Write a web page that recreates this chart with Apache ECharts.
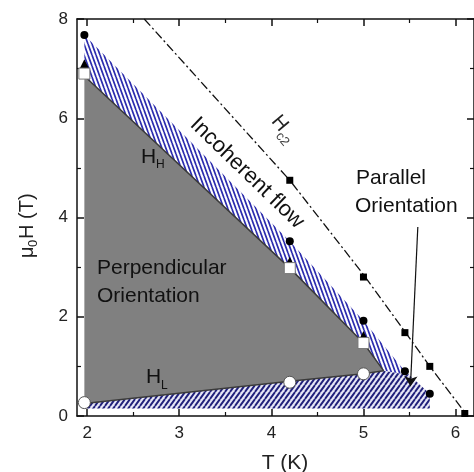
<!DOCTYPE html>
<html><head><meta charset="utf-8">
<script src="https://cdn.jsdelivr.net/npm/echarts@6/dist/echarts.min.js"></script>
<style>html,body{margin:0;padding:0;background:#fff}#c{width:474px;height:472px}</style>
</head><body><div id="c"></div>
<script>
// ---- data (T in K, mu0H in T) ----
const xTickValues = [2, 3, 4, 5, 6];
const xMinorValues = [2.5, 3.5, 4.5, 5.5];
const hc2Squares = [[4.2, 4.75], [5.0, 2.8], [5.45, 1.68], [5.72, 1.0], [6.1, 0.05]];
const hc2Curve = [[2.62, 8.0], [4.2, 4.75], [5.0, 2.85], [5.45, 1.7], [5.72, 1.0], [6.13, 0.0]];
const filledCircles = [[1.97, 7.68], [4.2, 3.52], [5.0, 1.92], [5.45, 0.9], [5.72, 0.45]];
const openSquares = [[1.97, 6.9], [4.2, 2.98], [5.0, 1.47]];
const filledTriangles = [[1.97, 7.1], [4.2, 3.12], [5.0, 1.62]];
const openCircles = [[1.97, 0.27], [4.2, 0.68], [5.0, 0.85]];
const hHLine = [[1.97, 6.85], [4.2, 2.98], [5.0, 1.47], [5.22, 0.91]];
const hLLine = [[1.97, 0.25], [4.2, 0.7], [5.0, 0.85], [5.22, 0.91]];
const perpendicularRegion = [[1.97, 6.85], [4.2, 2.98], [5.0, 1.47], [5.22, 0.91], [5.0, 0.85], [4.2, 0.7], [1.97, 0.25]];
const incoherentUpper = [[1.97, 7.68], [4.2, 3.52], [5.0, 1.92], [5.45, 0.9], [5.5, 0.82], [5.22, 0.91], [5.0, 1.47], [4.2, 2.98], [1.97, 6.85]];
const incoherentLower = [[1.99, 0.25], [4.2, 0.7], [5.0, 0.85], [5.22, 0.91], [5.5, 0.82], [5.72, 0.45], [5.72, 0.15], [1.99, 0.15]];
const arrowParallel = [[5.59, 3.81], [5.51, 0.6]];

// stripe tile: w = horizontal period, h = tile height; lean '/' or '\'
function makePattern(lean, w, h, lw, color, bg) {
  const c = document.createElement('canvas');
  c.width = w; c.height = h;
  const g = c.getContext('2d');
  g.fillStyle = bg; g.fillRect(0, 0, w, h);
  g.strokeStyle = color; g.lineWidth = lw;
  g.beginPath();
  for (let k = -1; k <= 1; k++) {
    if (lean === '/') { g.moveTo(k * w, h); g.lineTo(k * w + w, 0); }
    else { g.moveTo(k * w, 0); g.lineTo(k * w + w, h); }
  }
  g.stroke();
  return { image: c, repeat: 'repeat' };
}
const patUpper = makePattern('\\', 4, 11, 1.7, '#2c2cae', '#ffffff');
const patLower = makePattern('/', 5, 7, 1.9, '#20207a', '#e6e6f6');

function polySeries(points, fill, z) {
  return {
    type: 'custom', coordinateSystem: 'cartesian2d', silent: true, z: z,
    data: [points[0]],
    renderItem: function (params, api) {
      return { type: 'polygon', shape: { points: points.map(p => api.coord(p)) }, style: { fill: fill, stroke: null } };
    }
  };
}

const font = '"Liberation Sans", Arial, sans-serif';
const chart = echarts.init(document.getElementById('c'));
const xCommon = { type: 'value', min: 1.89, max: 6.2, splitLine: { show: false } };
const axLine = { show: true, lineStyle: { color: '#111', width: 1.5 } };
function txt(x, y, text, size, color, align) {
  return { type: 'text', x: x, y: y, z: 100, style: { text: text, font: size + 'px ' + font, fill: color, textAlign: align || 'left', textVerticalAlign: 'middle' } };
}
chart.setOption({
  animation: false,
  backgroundColor: '#fff',
  grid: { left: 77, top: 19, width: 399, height: 397 },
  xAxis: [
    Object.assign({}, xCommon, { position: 'bottom', axisLine: axLine,
      axisTick: { inside: true, length: 7, customValues: xTickValues, lineStyle: { color: '#111', width: 1.5 } },
      axisLabel: { customValues: xTickValues, fontSize: 17, color: '#222', fontFamily: font, margin: 9 } }),
    Object.assign({}, xCommon, { position: 'bottom', axisLine: { show: false },
      axisTick: { inside: true, length: 4, customValues: xMinorValues, lineStyle: { color: '#111', width: 1.2 } },
      axisLabel: { show: false } }),
    Object.assign({}, xCommon, { position: 'top', axisLine: axLine,
      axisTick: { inside: true, length: 7, customValues: xTickValues, lineStyle: { color: '#111', width: 1.5 } },
      axisLabel: { show: false } }),
    Object.assign({}, xCommon, { position: 'top', axisLine: { show: false },
      axisTick: { inside: true, length: 4, customValues: xMinorValues, lineStyle: { color: '#111', width: 1.2 } },
      axisLabel: { show: false } })
  ],
  yAxis: [
    { type: 'value', min: 0, max: 8, interval: 2, position: 'left', splitLine: { show: false }, axisLine: axLine,
      axisTick: { inside: true, length: 7, lineStyle: { color: '#111', width: 1.5 } },
      minorTick: { show: true, splitNumber: 2, length: 4, lineStyle: { color: '#111', width: 1.2 } },
      axisLabel: { fontSize: 17, color: '#222', fontFamily: font, margin: 9 } },
    { type: 'value', min: 0, max: 8, interval: 2, position: 'right', splitLine: { show: false }, axisLine: axLine,
      axisTick: { inside: true, length: 7, lineStyle: { color: '#111', width: 1.5 } },
      minorTick: { show: true, splitNumber: 2, length: 4, lineStyle: { color: '#111', width: 1.2 } },
      axisLabel: { show: false } }
  ],
  series: [
    polySeries(incoherentUpper, patUpper, 1),
    polySeries(incoherentLower, patLower, 1),
    polySeries(perpendicularRegion, '#808080', 2),
    { type: 'line', data: hHLine, symbol: 'none', z: 3, lineStyle: { color: '#3a3a3a', width: 1.5 } },
    { type: 'line', data: hLLine, symbol: 'none', z: 3, lineStyle: { color: '#3a3a3a', width: 1.5 } },
    { type: 'line', data: hc2Curve, symbol: 'none', z: 3, lineStyle: { color: '#111', width: 1.3, type: [9, 3, 2, 3] } },
    { type: 'lines', coordinateSystem: 'cartesian2d', z: 6, symbol: ['none', 'arrow'], symbolSize: 10,
      lineStyle: { color: '#111', width: 1.2, opacity: 1 }, data: [{ coords: arrowParallel }] },
    { type: 'scatter', data: filledTriangles, symbol: 'triangle', symbolSize: 9, z: 4, itemStyle: { color: '#000', opacity: 1 } },
    { type: 'scatter', data: openSquares, symbol: 'rect', symbolSize: 11, z: 5, itemStyle: { color: '#fff', borderColor: '#777', borderWidth: 1, opacity: 1 } },
    { type: 'scatter', data: filledCircles, symbol: 'circle', symbolSize: 8, z: 5, itemStyle: { color: '#000', opacity: 1 } },
    { type: 'scatter', data: hc2Squares, symbol: 'rect', symbolSize: 7, z: 5, itemStyle: { color: '#000', opacity: 1 } },
    { type: 'scatter', data: openCircles, symbol: 'circle', symbolSize: 12, z: 5, itemStyle: { color: '#fff', borderColor: '#555', borderWidth: 1, opacity: 1 } }
  ],
  graphic: [
    txt(285, 463, 'T (K)', 21, '#222', 'center'),
    { type: 'group', x: 27, y: 258, z: 100, rotation: Math.PI / 2, children: [
      txt(0, 0, 'μ', 20, '#222'), txt(11, 6, '0', 13, '#222'), txt(19, 0, 'H (T)', 20, '#222')
    ] },
    txt(97, 268, 'Perpendicular', 21, '#111'),
    txt(97, 296, 'Orientation', 21, '#111'),
    txt(356, 178, 'Parallel', 21, '#111'),
    txt(355, 206, 'Orientation', 21, '#111'),
    { type: 'group', x: 141, y: 157, z: 100, children: [ txt(0, 0, 'H', 21, '#111'), txt(15, 8, 'H', 12, '#111') ] },
    { type: 'group', x: 146, y: 377, z: 100, children: [ txt(0, 0, 'H', 21, '#111'), txt(15, 9, 'L', 12, '#111') ] },
    { type: 'group', x: 247, y: 173, z: 100, rotation: -44 * Math.PI / 180, children: [ txt(0, 0, 'Incoherent flow', 22, '#111', 'center') ] },
    { type: 'group', x: 275, y: 118, z: 100, rotation: -50 * Math.PI / 180, children: [ txt(0, 0, 'H', 20, '#222'), txt(14, 8, 'c2', 13, '#444') ] }
  ]
});
</script>
</body></html>
